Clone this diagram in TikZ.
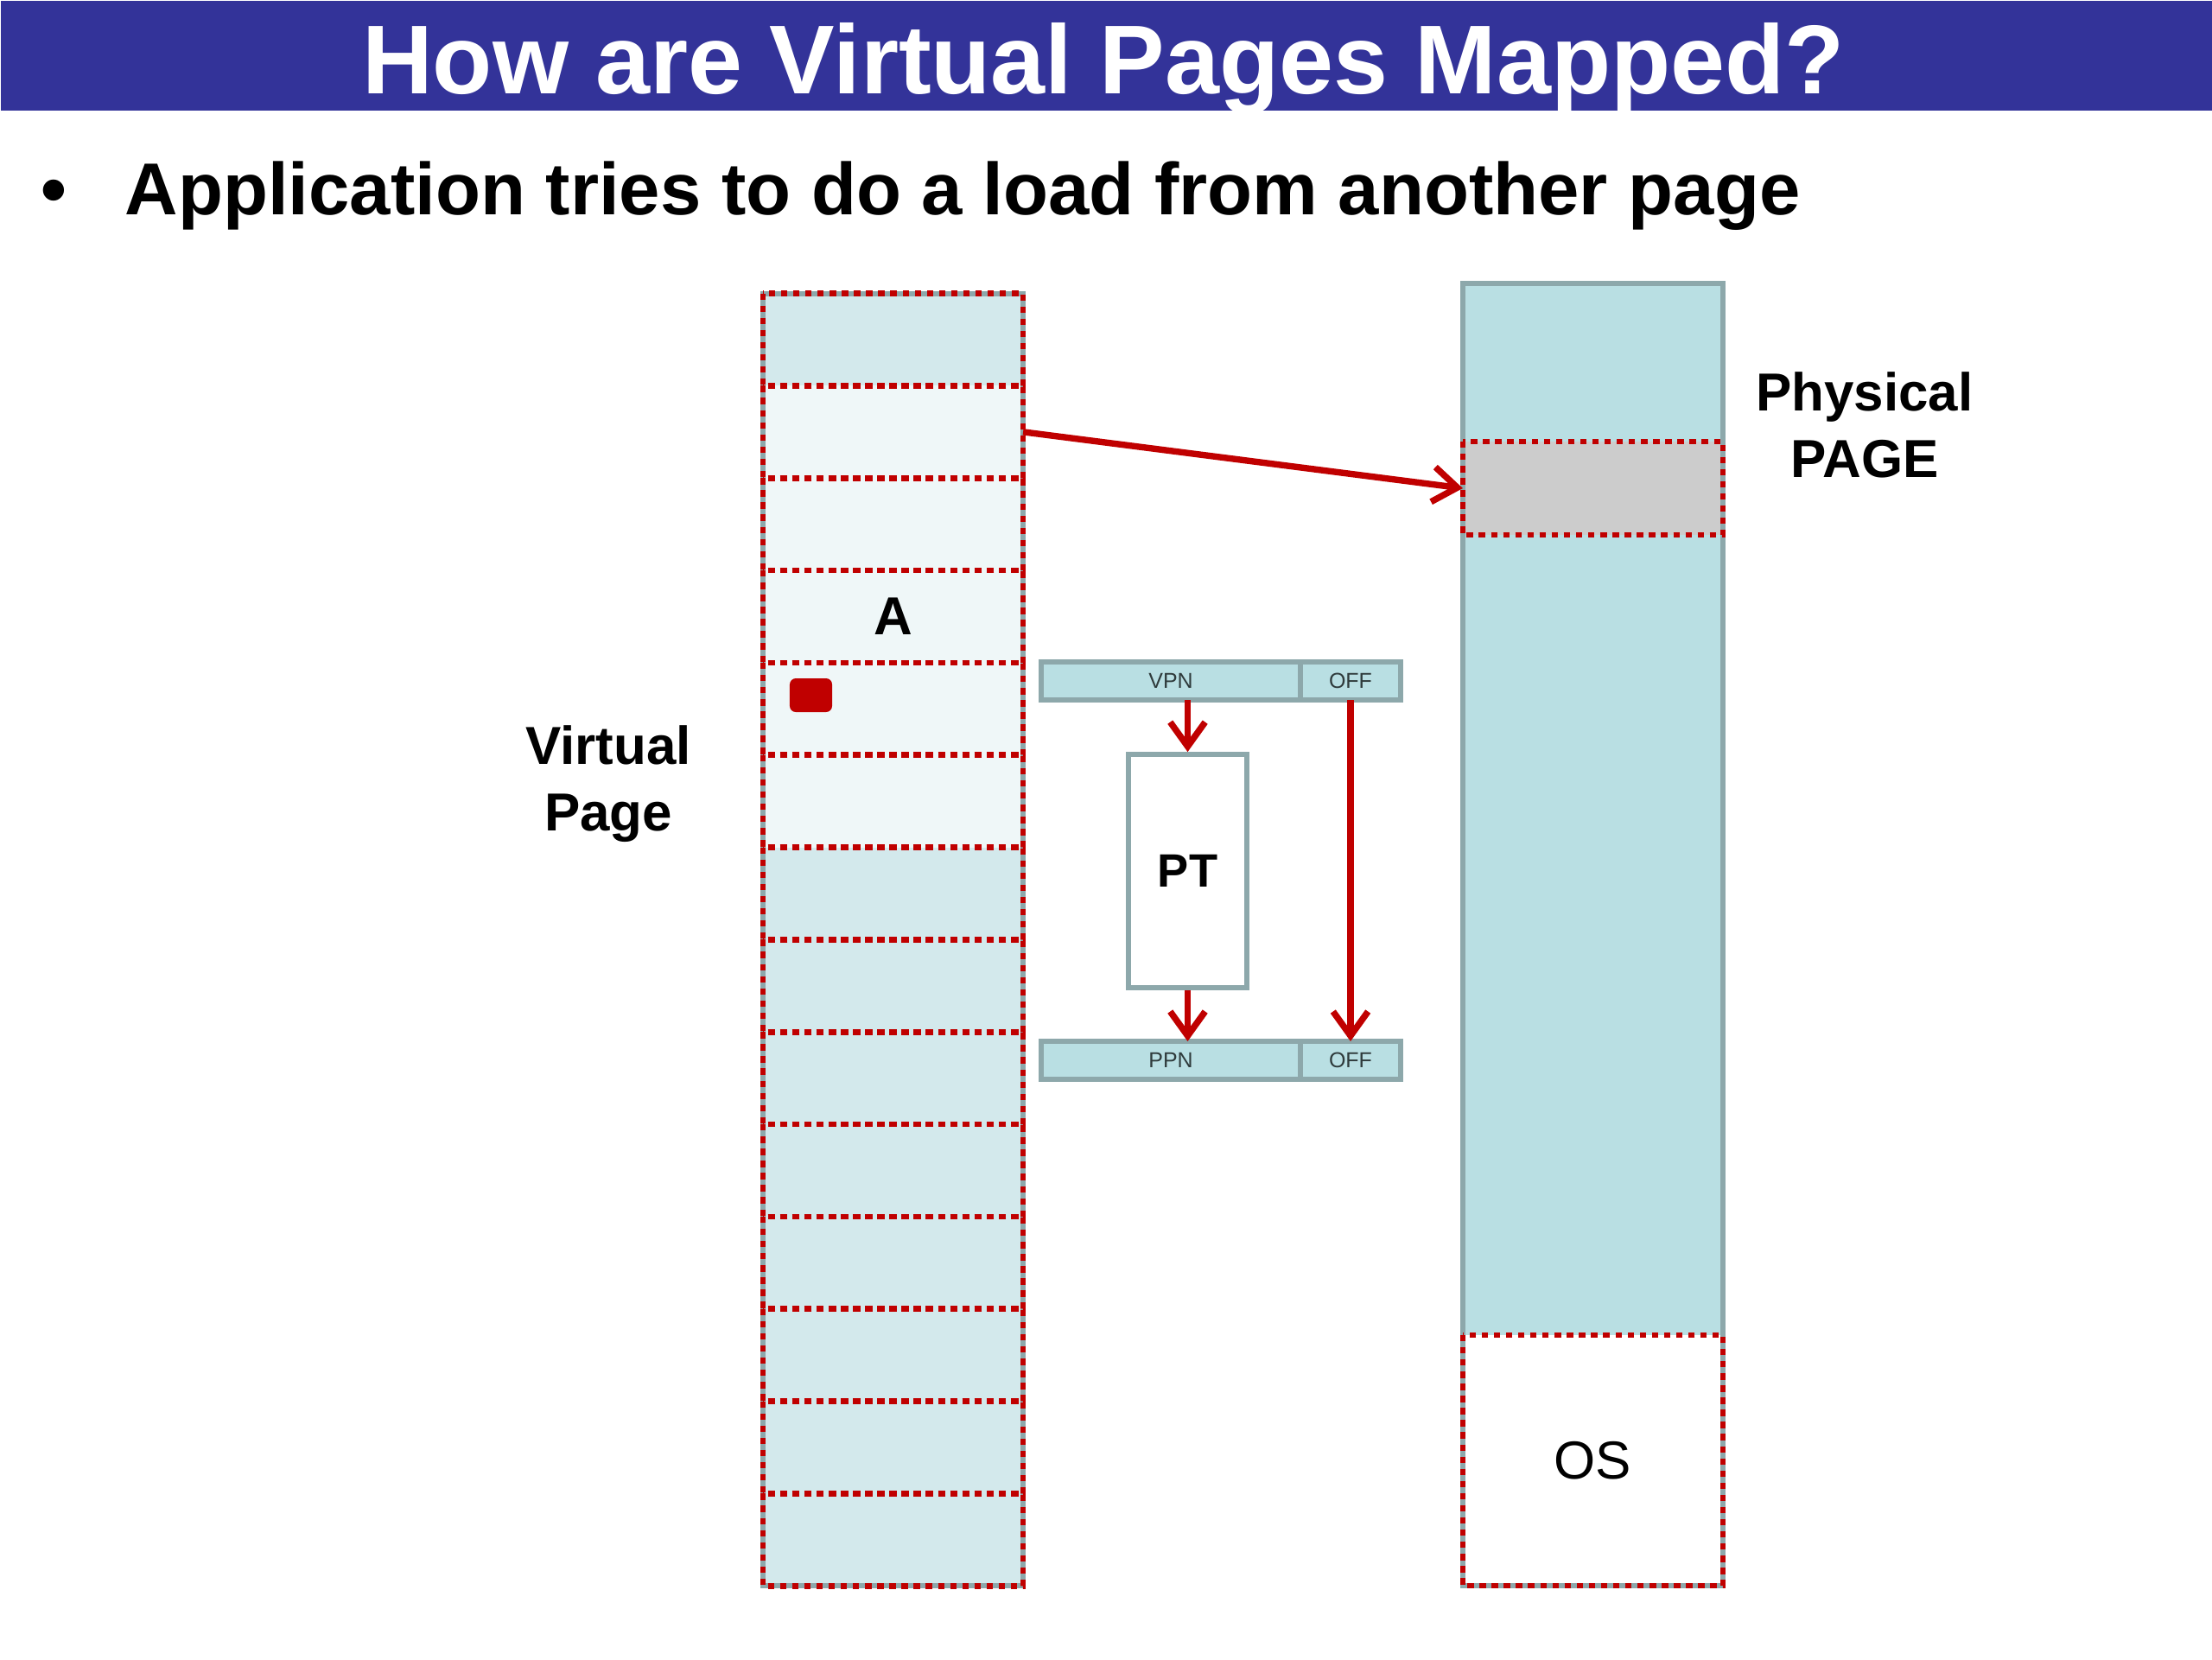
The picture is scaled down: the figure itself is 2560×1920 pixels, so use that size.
\documentclass[tikz,border=0pt]{standalone}
\usepackage{fontspec}
\setmainfont{Liberation Sans}
\usetikzlibrary{arrows.meta,calc}
\definecolor{titlebg}{HTML}{333399}
\definecolor{redc}{HTML}{C00000}
\definecolor{physfill}{HTML}{B9DFE3}
\definecolor{vdark}{HTML}{D3E9EC}
\definecolor{vlight}{HTML}{EFF7F8}
\definecolor{bordergray}{HTML}{8DA8AB}
\definecolor{graypage}{HTML}{CCCCCC}
\definecolor{textgray}{HTML}{2F3B3C}
\begin{document}
\begin{tikzpicture}[x=0.01cm,y=-0.01cm,
  reddot/.style={draw=redc, line width=1.9pt, dash pattern=on 2.1pt off 1.9pt},
  grayedge/.style={draw=bordergray, line width=1.7pt},
  vrow/.style={minimum width=3.01cm, minimum height=1.068cm, inner sep=0pt, outer sep=0pt},
  bar/.style={fill=physfill, draw=bordergray, line width=1.5pt, inner sep=0pt, outer sep=0pt,
    minimum height=0.44cm, text=textgray, font=\fontsize{7.1pt}{8pt}\selectfont},
  redarrow/.style={draw=redc, line width=2.1pt, -{Straight Barb[length=8pt,width=11.5pt]}},
  lbl/.style={inner sep=0pt, align=center, font=\bfseries\fontsize{17.6pt}{21.9pt}\selectfont}
]
\useasboundingbox (0,0) rectangle (2560,1920);
\fill[white] (0,0) rectangle (2560,1920);

% title bar
\node (titlebar) [fill=titlebg, minimum width=25.6cm, minimum height=1.27cm, inner sep=0pt, anchor=north west] at (0,0) {};
\node (title) [anchor=base, inner sep=0pt, text=white, font=\bfseries\fontsize{32.2pt}{38pt}\selectfont] at (1277,108) {How are Virtual Pages Mapped?};

% bullet
\node (bullet) [anchor=base, inner sep=0pt, font=\bfseries\fontsize{24.2pt}{29pt}\selectfont] at (62,248) {•};
\node (bt) [anchor=base west, inner sep=0pt, font=\bfseries\fontsize{24.2pt}{29pt}\selectfont] at (144,248) {Application tries to do a load from another page};

% virtual column: fills
\foreach \i/\c in {1/vdark,2/vlight,3/vlight,4/vlight,5/vlight,6/vlight,7/vdark,8/vdark,9/vdark,10/vdark,11/vdark,12/vdark,13/vdark,14/vdark}{
  \pgfmathsetmacro\cy{339.6+(\i-0.5)*106.83}
  \node[vrow, fill=\c] (v\i) at (1033.5,\cy) {};
}
% outer gray edge, then red dotted page borders
\draw[grayedge] (v1.north west) rectangle (v14.south east);
\foreach \i in {1,...,14}{
  \draw[reddot] (v\i.north west) rectangle (v\i.south east);
}
\node (A) [inner sep=0pt, font=\bfseries\fontsize{17.6pt}{20pt}\selectfont] at (v4) {A};
\node (cursor) [fill=redc, rounded corners=2pt, minimum width=0.49cm, minimum height=0.39cm, inner sep=0pt] at (938.5,804.5) {};

\node (vlabel) [lbl] at (704,907) {Virtual\\Page};

% physical column
\node (phys) [fill=physfill, minimum width=3.01cm, minimum height=15.07cm, inner sep=0pt, outer sep=0pt] at (1843.5,1081.5) {};
\node (gp) [vrow, fill=graypage, minimum height=1.08cm] at (1843.5,565) {};
\node (os) [vrow, fill=white, minimum height=2.90cm, font=\fontsize{17.6pt}{20pt}\selectfont] at (1843.5,1690) {OS};
\draw[grayedge] (phys.north west) rectangle (phys.south east);
\draw[reddot] (gp.north west) rectangle (gp.south east);
\draw[reddot] (os.north west) rectangle (os.south east);
\node (plabel) [lbl] at (2158,492) {Physical\\PAGE};

% address bars
\node (vpn) [bar, minimum width=3.00cm] at (1355,788) {VPN};
\node (off1) [bar, minimum width=1.16cm] at (1563,788) {OFF};
\node (ppn) [bar, minimum width=3.00cm] at (1355,1227) {PPN};
\node (off2) [bar, minimum width=1.16cm] at (1563,1227) {OFF};
\node (pt) [fill=white, draw=bordergray, line width=1.6pt, minimum width=1.37cm, minimum height=2.70cm, inner sep=0pt, font=\bfseries\fontsize{15.4pt}{18pt}\selectfont] at (1374.5,1008) {PT};

% arrows
\draw[redarrow] (v2.east) -- (gp.west);
\draw[redarrow] (pt.north |- vpn.south) -- (pt.north);
\draw[redarrow] (pt.south) -- (pt.south |- ppn.north);
\draw[redarrow] (off1.south) -- (off2.north);
\end{tikzpicture}
\end{document}
